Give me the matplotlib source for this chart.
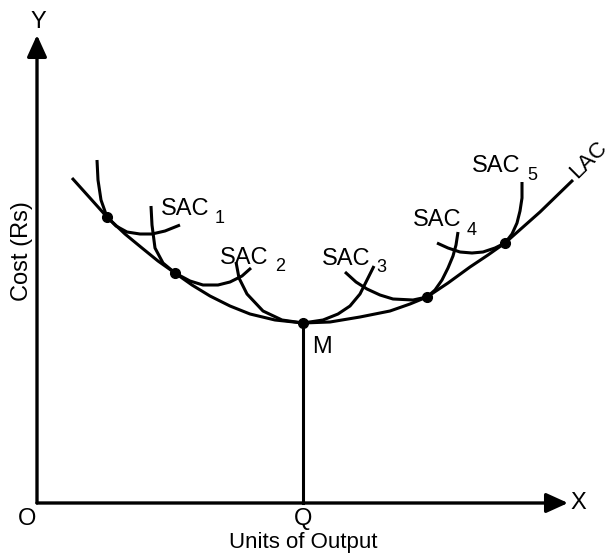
import matplotlib.pyplot as plt

plt.rcParams['font.family'] = ['Liberation Sans', 'DejaVu Sans']

# Long run average cost curve (output, cost)
lac_x = [35, 53, 70, 88, 105, 121, 138, 155, 173, 193, 213, 238, 266, 293, 323, 353, 373, 390, 411, 433, 451, 468, 503, 536]
lac_y = [325, 305, 286, 269, 255, 242, 230, 218, 207, 197, 189, 183, 180, 181, 186, 192, 199, 206, 220, 236, 248, 260, 291, 323]

# Short run average cost curves
sac1_x = [60, 61, 64, 70, 79, 90, 103, 115, 128, 143]
sac1_y = [343, 323, 303, 286, 277, 271, 269, 269, 272, 278]
sac2_x = [114, 115, 118, 126, 138, 153, 166, 181, 193, 205, 214]
sac2_y = [297, 278, 255, 240, 230, 222, 218, 218, 221, 227, 235]
sac3_x = [199, 202, 210, 226, 245, 266, 286, 301, 313, 323, 330, 337]
sac3_y = [241, 225, 209, 192, 183, 180, 183, 189, 197, 209, 223, 237]
sac4_x = [308, 319, 330, 343, 356, 376, 390, 398, 405, 411, 416, 419, 421]
sac4_y = [231, 221, 214, 208, 204, 203, 206, 213, 223, 235, 247, 258, 271]
sac5_x = [400, 411, 423, 435, 446, 458, 468, 475, 480, 483, 485, 485]
sac5_y = [260, 255, 251, 250, 251, 255, 260, 269, 280, 292, 305, 321]

# Points where each SAC touches the LAC
tangent_x = [70, 138, 266, 390, 468]
tangent_y = [286, 230, 180, 206, 260]

sac_curves = [(sac1_x, sac1_y), (sac2_x, sac2_y), (sac3_x, sac3_y),
              (sac4_x, sac4_y), (sac5_x, sac5_y)]
sac_names = ['1', '2', '3', '4', '5']
sac_label_pos = [(124, 288), (183, 239), (285, 238), (376, 277), (435, 331)]
sac_sub_pos = [(178, 280), (238, 232), (339, 231), (430, 268), (490, 323)]

q_output = 266
min_cost = 180

fig = plt.figure(figsize=(6.12, 5.54), dpi=100)
ax = fig.add_axes([0, 0, 1, 1])
ax.set_xlim(-37, 575)
ax.set_ylim(-51, 503)
ax.axis('off')

# Axes with arrow heads
arrow = dict(arrowstyle='-|>,head_length=0.55,head_width=0.25', lw=2.4,
             color='black', mutation_scale=24, shrinkA=0, shrinkB=0)
ax.annotate('', xy=(0, 468), xytext=(0, 0), arrowprops=arrow)
ax.annotate('', xy=(531, 0), xytext=(0, 0), arrowprops=arrow)

# Curves
ax.plot(lac_x, lac_y, color='black', lw=2.2, solid_capstyle='butt')
for cx, cy in sac_curves:
    ax.plot(cx, cy, color='black', lw=2.2, solid_capstyle='butt')
ax.plot([q_output, q_output], [0, min_cost], color='black', lw=2.2)
ax.plot(tangent_x, tangent_y, 'o', color='black', markersize=7)

# Labels
fs = 17
ax.text(1, 481, 'Y', fontsize=fs, ha='center', va='center')
ax.text(541, 0, 'X', fontsize=fs, ha='center', va='center')
ax.text(-10, -16, 'O', fontsize=fs, ha='center', va='center')
ax.text(q_output, -16, 'Q', fontsize=fs, ha='center', va='center')
ax.text(q_output, -45, 'Units of Output', fontsize=16, ha='center', va='baseline')
ax.text(-15, 252, 'Cost (Rs)', fontsize=fs, ha='center', va='center', rotation=90)
ax.text(275, 150, 'M', fontsize=fs, ha='left', va='baseline')
ax.text(552, 343, 'LAC', fontsize=16, ha='center', va='center', rotation=45)

for name, (lx, ly), (sx, sy) in zip(sac_names, sac_label_pos, sac_sub_pos):
    ax.text(lx, ly, 'SAC', fontsize=fs, ha='left', va='baseline')
    ax.text(sx, sy, name, fontsize=13, ha='left', va='baseline')

fig.savefig('out.png', dpi=100)
